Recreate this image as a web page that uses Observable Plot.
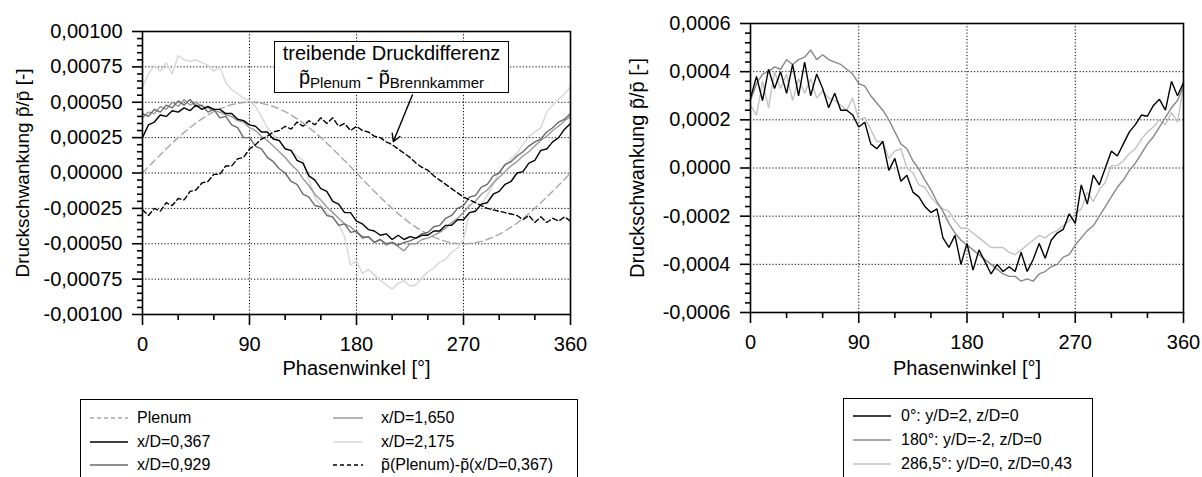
<!DOCTYPE html>
<html><head><meta charset="utf-8">
<script src="https://cdn.jsdelivr.net/npm/d3@7"></script>
<script src="https://cdn.jsdelivr.net/npm/@observablehq/plot@0.6"></script>
<style>
body{margin:0;background:#fff;font-family:"Liberation Sans",Arial,sans-serif;color:#000;}
#wrap{position:relative;width:1202px;height:477px;overflow:hidden;background:#fff;}
.panel{position:absolute;top:0;}
.legend{position:absolute;border:1px solid #000;background:#fff;font-size:16px;}
.item{position:absolute;white-space:nowrap;height:18px;line-height:18px;}
.item svg{position:absolute;top:4px;left:0;}
.item span{position:absolute;top:0;}
.anno{position:absolute;border:1.5px solid #000;background:#fff;font-size:20px;}
.anno div{position:absolute;left:0;right:0;text-align:center;white-space:nowrap;line-height:20px;}
.anno sub{font-size:15px;vertical-align:-4px;line-height:0;}
</style></head>
<body><div id="wrap"></div>
<script>
// ---- data (pressure values in units of 1e-6, i.e. p~/p_mean * 1e6) ----
const UNIT = 1e-6;
const angles = [0,5,10,15,20,25,30,35,40,45,50,55,
  60,65,70,75,80,85,90,95,100,105,110,115,
  120,125,130,135,140,145,150,155,160,165,170,175,
  180,185,190,195,200,205,210,215,220,225,230,235,
  240,245,250,255,260,265,270,275,280,285,290,295,
  300,305,310,315,320,325,330,335,340,345,350,355,
  360];

// left panel
const plenum = [0,44,87,129,171,211,250,287,321,354,383,410,
  433,453,470,483,492,498,500,498,492,483,470,453,
  433,410,383,354,321,287,250,211,171,129,87,44,
  0,-44,-87,-129,-171,-211,-250,-287,-321,-354,-383,-410,
  -433,-453,-470,-483,-492,-498,-500,-498,-492,-483,-470,-453,
  -433,-410,-383,-354,-321,-287,-250,-211,-171,-129,-87,-44,
  0];
const xD0367 = [250,340,360,410,400,440,430,460,440,480,450,470,
  450,450,420,420,380,370,340,330,290,290,240,230,
  170,160,90,70,-20,-50,-110,-130,-200,-220,-280,-280,
  -340,-360,-400,-410,-440,-430,-470,-440,-470,-450,-460,-440,
  -440,-410,-410,-370,-370,-330,-330,-280,-270,-220,-210,-150,
  -130,-80,-60,0,10,70,90,160,170,220,250,310,
  350];
const xD0929 = [420,400,450,430,480,460,510,480,520,470,480,430,
  450,390,400,340,320,250,250,190,170,110,80,30,
  0,-60,-80,-150,-170,-230,-240,-300,-310,-370,-360,-420,
  -410,-460,-450,-490,-470,-500,-490,-510,-490,-480,-460,-430,
  -420,-380,-370,-320,-300,-250,-230,-170,-160,-100,-80,-20,
  0,60,80,120,150,190,220,240,290,320,360,380,
  420];
const xD1650 = [390,430,420,470,450,500,470,520,480,500,470,460,
  440,430,410,400,370,360,320,300,260,230,190,150,
  110,60,20,-40,-90,-150,-190,-240,-280,-320,-360,-380,
  -420,-450,-450,-490,-470,-510,-490,-520,-550,-500,-500,-470,
  -460,-440,-420,-390,-350,-320,-280,-230,-200,-150,-120,-70,
  -30,10,50,80,120,150,190,230,260,300,330,370,
  400];
const xD2175 = [610,700,760,720,780,700,830,800,790,800,780,760,
  720,750,640,590,560,530,510,470,400,320,270,220,
  180,150,120,90,-50,-170,-230,-280,-320,-360,-450,-650,
  -620,-710,-680,-720,-760,-790,-820,-780,-760,-800,-790,-740,
  -700,-670,-630,-610,-560,-530,-470,-280,-270,-220,-160,-80,
  10,60,100,140,200,260,290,320,430,480,520,560,
  610];
const diffPlenum0367 = [-260,-300,-250,-270,-210,-230,-180,-190,-130,-120,-70,-60,
  -10,-10,50,50,100,110,170,200,240,260,290,300,
  330,310,360,330,370,340,390,350,390,330,350,300,
  330,300,290,260,250,220,200,170,140,110,70,40,
  20,-20,-50,-80,-110,-140,-170,-190,-210,-230,-250,-260,
  -270,-280,-290,-300,-330,-300,-350,-310,-350,-320,-340,-310,
  -340];

// right panel
const pos0 = [290,380,280,410,330,400,310,430,300,440,300,390,
  330,250,310,240,240,220,170,190,100,80,110,-10,
  40,-55,-30,-100,-120,-160,-185,-170,-290,-330,-280,-400,
  -313,-424,-340,-390,-440,-400,-430,-410,-430,-350,-430,-380,
  -313,-375,-300,-270,-255,-190,-230,-70,-150,-30,-70,0,
  70,50,100,150,180,220,215,260,285,240,360,300,
  354];
const pos180 = [280,350,390,400,420,410,450,430,450,460,490,450,
  470,450,440,430,410,390,350,340,300,270,240,200,
  150,100,80,30,-5,-50,-90,-140,-180,-230,-270,-300,
  -320,-340,-360,-380,-400,-420,-440,-450,-450,-470,-460,-470,
  -440,-430,-410,-400,-370,-360,-320,-290,-260,-240,-200,-160,
  -120,-80,-50,-10,20,60,100,130,170,210,250,280,
  340];
const pos2865 = [260,220,360,250,400,330,390,280,370,310,370,290,
  320,290,280,260,240,290,200,210,160,110,110,40,
  70,80,0,-20,-70,-80,-120,-150,-170,-180,-220,-250,
  -250,-270,-290,-310,-330,-330,-330,-350,-360,-340,-320,-300,
  -280,-290,-270,-260,-240,-220,-190,-170,-100,-140,-90,-60,
  10,10,30,60,80,120,150,170,200,180,230,190,
  340];

// ticks
const xMajor = [0, 90, 180, 270, 360];
const xMinor = [30, 60, 120, 150, 210, 240, 300, 330];
const yMajorL = [-0.001, -0.00075, -0.0005, -0.00025, 0, 0.00025, 0.0005, 0.00075, 0.001];
const yMajorR = [-0.0006, -0.0004, -0.0002, 0, 0.0002, 0.0004, 0.0006];

// annotation arrow (data coordinates): from box to the dashed curve
const arrowL = [{x1: 227, y1: 0.000552, x2: 211, y2: 0.000222}];

// labels
const yTitle = "Druckschwankung p\u0303/p\u0304 [-]";
const xTitle = "Phasenwinkel [°]";

const rows = vals => angles.map((a, i) => ({angle: a, value: vals[i] * UNIT}));
const minorBetween = (lo, hi, step, majors) =>
  d3.range(0, Math.round((hi - lo) / step) + 1).map(k => +(lo + k * step).toFixed(8))
    .filter(v => !majors.some(m => Math.abs(m - v) < step / 10));

const fmt = n => d => (Math.abs(d) < 1e-12 ? 0 : d).toFixed(n).replace(".", ",");

function panel({width, height, mL, mR, mT, mB, yDomain, yMajor, yMinor, nDec, lines, extra, yTitleDx, xTitleDy, yTitleSize}) {
  const grid = {stroke: "#000", strokeOpacity: 1, strokeWidth: 1, strokeDasharray: "1.2,2"};
  return Plot.plot({
    width, height, marginLeft: mL, marginRight: mR, marginTop: mT, marginBottom: mB,
    style: {fontFamily: "'Liberation Sans', Arial, sans-serif", fontSize: "20px", color: "#000", background: "transparent", overflow: "visible"},
    x: {domain: [0, 360]},
    y: {domain: yDomain},
    marks: [
      Plot.gridX(xMajor, grid),
      Plot.gridY(yMajor, grid),
      ...lines.map(l => Plot.line(rows(l.data), {x: "angle", y: "value", stroke: l.color, strokeWidth: l.w || 1.4, strokeDasharray: l.dash, strokeLinejoin: "miter"})),
      ...(extra || []),
      Plot.frame({stroke: "#000", strokeWidth: 1.6}),
      Plot.axisX(xMajor, {tickSize: 11, tickPadding: 11, strokeWidth: 1.6, tickFormat: d => String(d), label: null, fontSize: 20}),
      Plot.axisX(xMinor, {tickSize: 6, strokeWidth: 1.6, tickFormat: () => "", label: null}),
      Plot.axisY(yMajor, {tickSize: 10, tickPadding: 10, strokeWidth: 1.6, tickFormat: fmt(nDec), label: null, fontSize: 20}),
      Plot.axisY(yMinor, {tickSize: 5, strokeWidth: 1.6, tickFormat: () => "", label: null}),
      Plot.text([xTitle], {frameAnchor: "bottom", lineAnchor: "middle", textAnchor: "middle", dy: xTitleDy, fontSize: 20}),
      Plot.text([yTitle], {frameAnchor: "left", lineAnchor: "middle", textAnchor: "middle", dx: yTitleDx, rotate: -90, fontSize: yTitleSize})
    ]
  });
}

const wrap = document.getElementById("wrap");

const left = panel({
  width: 600, height: 380, mL: 142, mR: 30, mT: 31, mB: 66,
  yDomain: [-0.001, 0.001], yMajor: yMajorL,
  yMinor: minorBetween(-0.001, 0.001, 0.00005, yMajorL), nDec: 5,
  yTitleDx: -120, xTitleDy: 54, yTitleSize: 19,
  lines: [
    {data: plenum, color: "#a8a8a8", dash: "7,4"},
    {data: xD2175, color: "#d6d6d6"},
    {data: xD1650, color: "#989898"},
    {data: xD0929, color: "#6a6a6a"},
    {data: xD0367, color: "#000"},
    {data: diffPlenum0367, color: "#000", dash: "5,3"}
  ],
  extra: [Plot.arrow(arrowL, {x1: "x1", y1: "y1", x2: "x2", y2: "y2", stroke: "#000", strokeWidth: 1.4, headLength: 9})]
});
left.classList.add("panel"); left.style.left = "0px";
wrap.appendChild(left);

const right = panel({
  width: 592, height: 380, mL: 140, mR: 19, mT: 23, mB: 68,
  yDomain: [-0.0006, 0.0006], yMajor: yMajorR,
  yMinor: minorBetween(-0.0006, 0.0006, 0.00004, yMajorR), nDec: 4,
  yTitleDx: -113, xTitleDy: 56, yTitleSize: 20,
  lines: [
    {data: pos2865, color: "#c2c2c2"},
    {data: pos180, color: "#888888"},
    {data: pos0, color: "#000"}
  ]
});
right.classList.add("panel"); right.style.left = "610px";
wrap.appendChild(right);

// annotation box
const anno = document.createElement("div");
anno.className = "anno";
Object.assign(anno.style, {left: "274px", top: "41px", width: "233px", height: "50px"});
anno.innerHTML = `<div style="top:1px">treibende Druckdifferenz</div>
<div style="top:25px">p\u0303<sub>Plenum</sub> - p\u0303<sub>Brennkammer</sub></div>`;
wrap.appendChild(anno);

// legends
function sample(color, dash, w) {
  return `<svg width="${w}" height="10"><line x1="0" x2="${w}" y1="5" y2="5" stroke="${color}" stroke-width="1.5" ${dash ? `stroke-dasharray="${dash}"` : ""}/></svg>`;
}
function legend(box, items) {
  const el = document.createElement("div");
  el.className = "legend";
  Object.assign(el.style, box);
  for (const it of items) {
    const d = document.createElement("div");
    d.className = "item";
    d.style.left = it.x + "px"; d.style.top = it.y + "px";
    d.innerHTML = sample(it.color, it.dash, it.w) + `<span style="left:${it.tx}px">${it.label}</span>`;
    el.appendChild(d);
  }
  wrap.appendChild(el);
}
legend({left: "80px", top: "399px", width: "496px", height: "100px"}, [
  {x: 9, y: 9, w: 38, tx: 47, color: "#a8a8a8", dash: "4,3", label: "Plenum"},
  {x: 9, y: 33, w: 38, tx: 47, color: "#000", label: "x/D=0,367"},
  {x: 9, y: 56, w: 38, tx: 47, color: "#6a6a6a", label: "x/D=0,929"},
  {x: 252, y: 9, w: 30, tx: 48, color: "#989898", label: "x/D=1,650"},
  {x: 252, y: 33, w: 30, tx: 48, color: "#d6d6d6", label: "x/D=2,175"},
  {x: 252, y: 56, w: 30, tx: 48, color: "#000", dash: "4,3", label: "p\u0303(Plenum)-p\u0303(x/D=0,367)"}
]);
legend({left: "843px", top: "398px", width: "248px", height: "100px"}, [
  {x: 9, y: 8, w: 38, tx: 48, color: "#000", label: "0°: y/D=2, z/D=0"},
  {x: 9, y: 32, w: 38, tx: 48, color: "#888888", label: "180°: y/D=-2, z/D=0"},
  {x: 9, y: 56, w: 38, tx: 48, color: "#c2c2c2", label: "286,5°: y/D=0, z/D=0,43"}
]);
</script>
</body></html>
